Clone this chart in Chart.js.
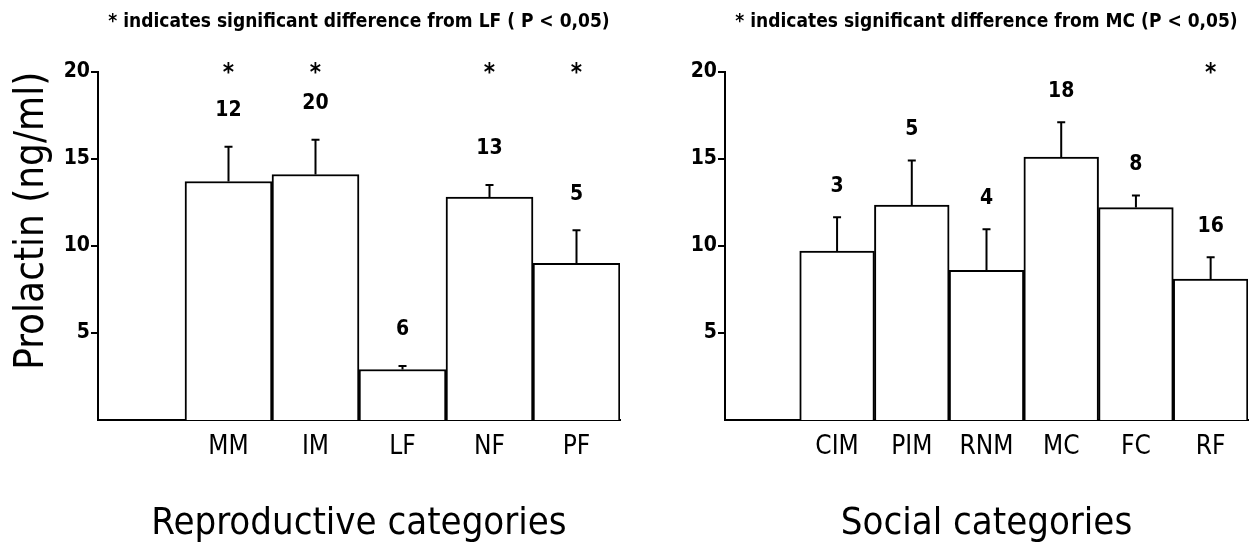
<!DOCTYPE html>
<html>
<head>
<meta charset="utf-8">
<script src="https://cdn.jsdelivr.net/npm/chart.js@4.4.1/dist/chart.umd.min.js"></script>
<style>
  html, body { margin: 0; padding: 0; background: #fff; }
  #graficas { position: relative; width: 1255px; height: 552px; overflow: hidden; }
  .caja-graf { position: absolute; top: 0; height: 552px; }
</style>
</head>
<body>
<div id="graficas"></div>
<script>
/* DATOS */
const catReprod = ['', 'MM', 'IM', 'LF', 'NF', 'PF'];
const mediaReprod = [null, 13.7, 14.1, 2.9, 12.8, 9.0];
const errReprod = [null, 2.0, 2.0, 0.2, 0.7, 1.9];
const nReprod = ['', '12', '20', '6', '13', '5'];
const sigReprod = [false, true, true, false, true, true];

const catSocial = ['', 'CIM', 'PIM', 'RNM', 'MC', 'FC', 'RF'];
const mediaSocial = [null, 9.7, 12.35, 8.6, 15.1, 12.2, 8.1];
const errSocial = [null, 1.95, 2.55, 2.35, 2.0, 0.7, 1.25];
const nSocial = ['', '3', '5', '4', '18', '8', '16'];
const sigSocial = [false, false, false, false, false, false, true];

const ticksY = [5, 10, 15, 20];

const letra = "'Liberation Sans Narrow', 'DejaVu Sans Condensed', sans-serif";

let contenedor = document.querySelector('#graficas');

/* ERRORES, N Y ASTERISCOS */
const pluginAnotaciones = {
  id: 'anotaciones',
  afterDatasetsDraw(chart, args, opts) {
    const ctx = chart.ctx;
    const escY = chart.scales.y;
    const meta = chart.getDatasetMeta(0);
    ctx.save();
    ctx.strokeStyle = '#000';
    ctx.fillStyle = '#000';
    ctx.lineWidth = 2;
    ctx.textAlign = 'center';
    ctx.textBaseline = 'middle';
    meta.data.forEach((barra, i) => {
      const media = opts.medias[i];
      if (media == null) return;
      const yErr = escY.getPixelForValue(media + opts.errores[i]);
      ctx.beginPath();
      ctx.moveTo(barra.x, barra.y);
      ctx.lineTo(barra.x, yErr);
      ctx.moveTo(barra.x - 4, yErr);
      ctx.lineTo(barra.x + 4, yErr);
      ctx.stroke();
      ctx.font = 'bold 21px ' + letra;
      ctx.fillText(opts.ns[i], barra.x, yErr - opts.distN);
      if (opts.sig[i]) {
        ctx.font = 'bold 24px ' + letra;
        ctx.fillText('*', barra.x, escY.getPixelForValue(20) + 2);
      }
    });
    ctx.restore();
  }
};

function crearGrafica(conf) {
  let caja = document.createElement('div');
  caja.className = 'caja-graf';
  caja.style.left = conf.izquierda + 'px';
  caja.style.width = conf.ancho + 'px';

  let lienzo = document.createElement('canvas');
  lienzo.width = conf.ancho;
  lienzo.height = 552;
  caja.appendChild(lienzo);
  contenedor.appendChild(caja);

  new Chart(lienzo.getContext('2d'), {
    type: 'bar',
    data: {
      labels: conf.categorias,
      datasets: [{
        data: conf.medias,
        backgroundColor: '#ffffff',
        borderColor: '#000000',
        borderWidth: 2,
        categoryPercentage: 1,
        barPercentage: 1
      }]
    },
    options: {
      responsive: false,
      animation: false,
      devicePixelRatio: 1,
      layout: { padding: { left: 0, right: conf.padDer, top: 0, bottom: 0 } },
      plugins: {
        legend: { display: false },
        tooltip: { enabled: false },
        title: {
          display: true,
          text: conf.titulo,
          color: '#000',
          fullSize: false,
          font: { family: letra, size: 19, weight: 'bold', lineHeight: 1.2 },
          padding: { top: 11, bottom: 38 }
        },
        anotaciones: {
          medias: conf.medias,
          errores: conf.errores,
          ns: conf.ns,
          sig: conf.sig,
          distN: conf.distN
        }
      },
      scales: {
        x: {
          grid: { display: false, drawTicks: false },
          border: { display: true, color: '#000', width: 2 },
          ticks: {
            color: '#000',
            padding: 12,
            font: { family: letra, size: 26 }
          },
          title: {
            display: true,
            text: conf.tituloX,
            color: '#000',
            font: { family: letra, size: 38, lineHeight: 1.2 },
            padding: { top: 0, bottom: 5 }
          },
          afterFit: s => { s.height = 132; }
        },
        y: {
          min: 0,
          max: 20,
          afterBuildTicks: s => { s.ticks = ticksY.map(v => ({ value: v })); },
          grid: { drawOnChartArea: false, drawTicks: true, tickLength: 7, color: '#000', lineWidth: 2 },
          border: { display: true, color: '#000', width: 2 },
          ticks: {
            color: '#000',
            padding: 1,
            font: { family: letra, size: 21, weight: 'bold' }
          },
          title: {
            display: conf.tituloY !== '',
            text: conf.tituloY,
            align: 'end',
            color: '#000',
            font: { family: letra, size: 40, lineHeight: 1.2 },
            padding: { top: 9, bottom: 0 }
          },
          afterFit: s => { s.width = conf.anchoY; }
        }
      }
    },
    plugins: [pluginAnotaciones]
  });
}

/* GRAFICA REPRODUCTIVA */
crearGrafica({
  izquierda: 0,
  ancho: 630,
  padDer: 10,
  anchoY: 98,
  categorias: catReprod,
  medias: mediaReprod,
  errores: errReprod,
  ns: nReprod,
  sig: sigReprod,
  distN: 36,
  titulo: '* indicates significant difference from LF ( P < 0,05)',
  tituloX: 'Reproductive categories',
  tituloY: 'Prolactin (ng/ml)'
});

/* GRAFICA SOCIAL */
crearGrafica({
  izquierda: 630,
  ancho: 625,
  padDer: 7,
  anchoY: 95,
  categorias: catSocial,
  medias: mediaSocial,
  errores: errSocial,
  ns: nSocial,
  sig: sigSocial,
  distN: 31,
  titulo: '* indicates significant difference from MC (P < 0,05)',
  tituloX: 'Social categories',
  tituloY: ''
});
</script>
</body>
</html>
